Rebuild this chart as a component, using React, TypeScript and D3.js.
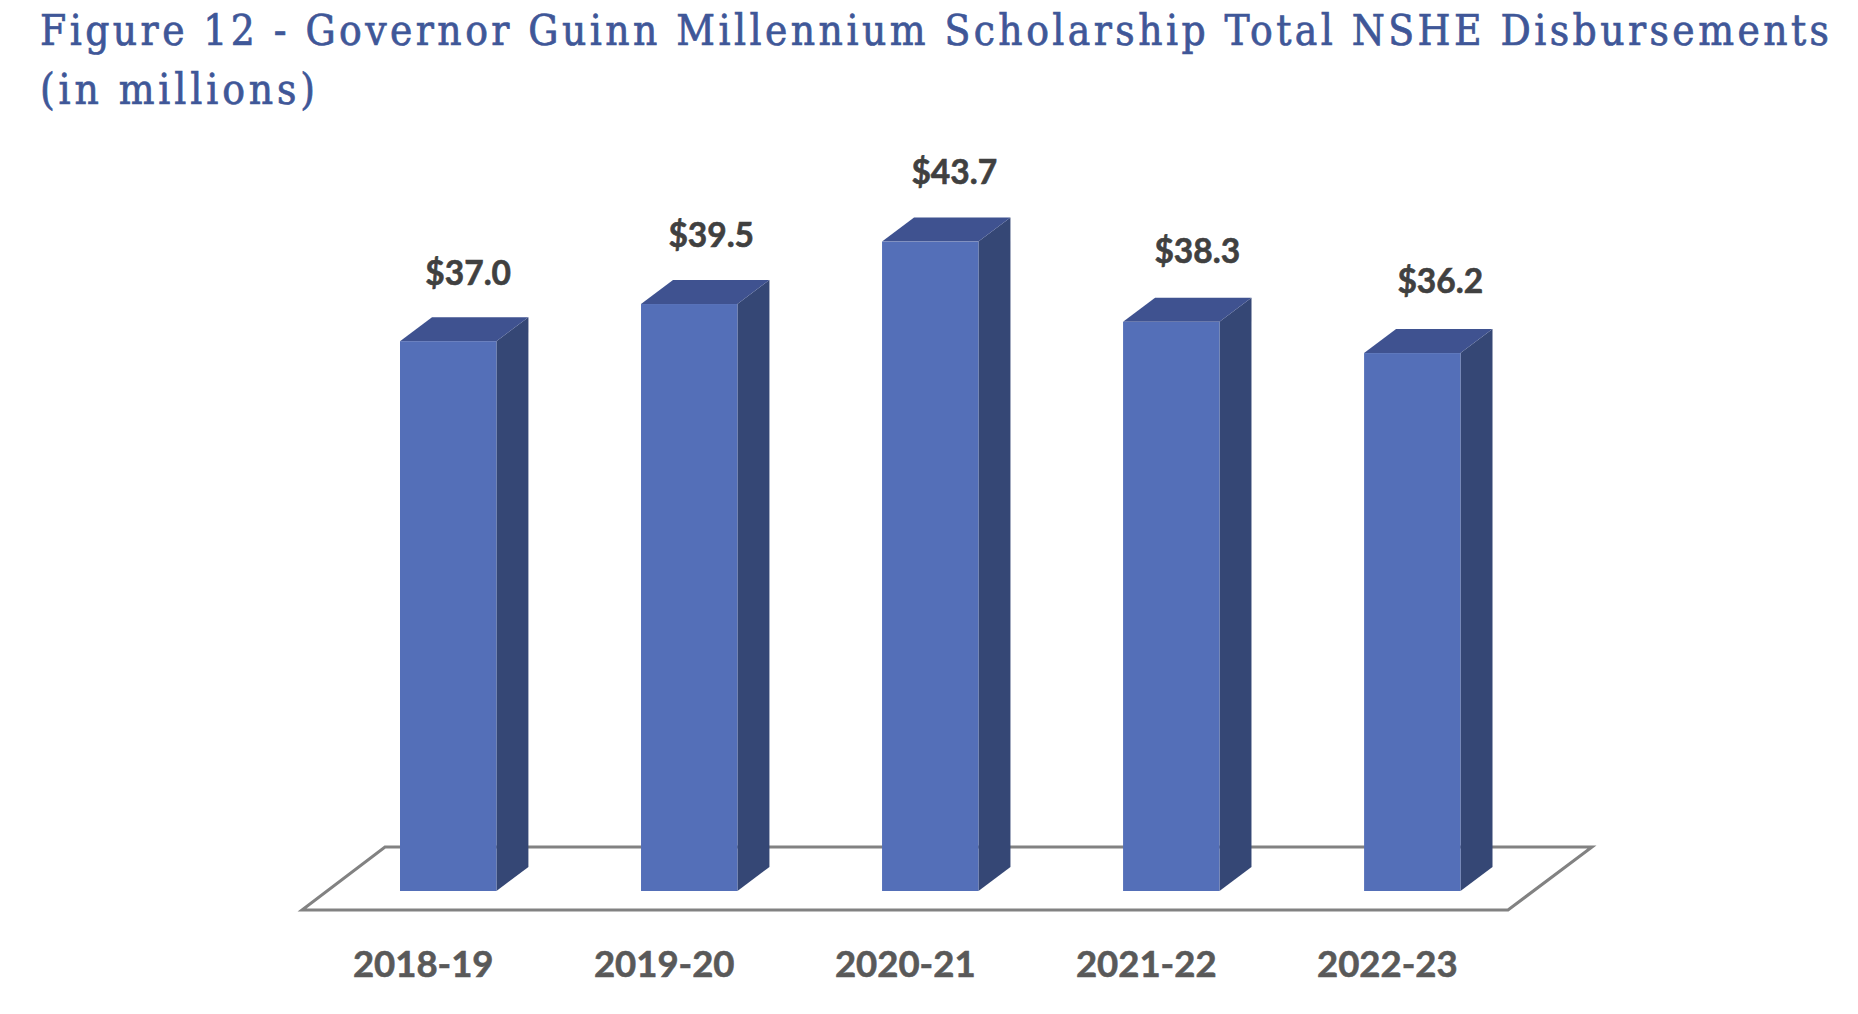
import React from "react";
import * as d3 from "d3";

const categories: string[] = ["2018-19", "2019-20", "2020-21", "2021-22", "2022-23"];
const values: number[] = [37.0, 39.5, 43.7, 38.3, 36.2];
const valueLabels: string[] = ["$37.0", "$39.5", "$43.7", "$38.3", "$36.2"];
const titleLines: string[] = [
  "Figure 12 - Governor Guinn Millennium Scholarship Total NSHE Disbursements",
  "(in millions)",
];

const W = 1858;
const H = 1014;

export default function App() {
  const baseY = 891;
  const x = d3
    .scaleBand<string>()
    .domain(categories)
    .range([400, 1460.5])
    .paddingInner(0.6)
    .paddingOuter(0);
  const y = d3.scaleLinear().domain([0, 50]).range([baseY, baseY - 50 * 14.86]);
  const bw = x.bandwidth();
  const ddx = 32;
  const ddy = -24;

  const floor = [
    [385, 847],
    [1592, 847],
    [1508, 910],
    [302, 910],
  ];

  const front = "#546FB8";
  const side = "#354775";
  const top = "#3F5290";
  const titleColor = "#3F5798";
  const titleFont = "'DejaVu Serif', 'Liberation Serif', serif";

  return (
    <svg
      width={W}
      height={H}
      style={{ position: "absolute", left: 0, top: 0, display: "block", background: "#fff" }}
    >
      <rect x={0} y={0} width={W} height={H} fill="#fff" />
      <text
        x={40}
        y={45}
        fontFamily={titleFont}
        fontStretch="condensed"
        fontSize={42}
        fill={titleColor}
        stroke={titleColor}
        strokeWidth={0.7}
        textLength={1789}
        lengthAdjust="spacing"
      >
        {titleLines[0]}
      </text>
      <text
        x={40}
        y={104}
        fontFamily={titleFont}
        fontStretch="condensed"
        fontSize={42}
        fill={titleColor}
        stroke={titleColor}
        strokeWidth={0.7}
        textLength={275}
        lengthAdjust="spacing"
      >
        {titleLines[1]}
      </text>

      <polygon
        points={floor.map((p) => p.join(",")).join(" ")}
        fill="#fff"
        stroke="#828282"
        strokeWidth={3}
        strokeLinejoin="miter"
      />

      {categories.map((c, i) => {
        const x0 = x(c)!;
        const x1 = x0 + bw;
        const yt = y(values[i]);
        const yb = y(0);
        return (
          <g key={c}>
            <polygon
              points={`${x1},${yt} ${x1 + ddx},${yt + ddy} ${x1 + ddx},${yb + ddy} ${x1},${yb}`}
              fill={side}
            />
            <polygon
              points={`${x0},${yt} ${x0 + ddx},${yt + ddy} ${x1 + ddx},${yt + ddy} ${x1},${yt}`}
              fill={top}
            />
            <rect x={x0} y={yt} width={bw} height={yb - yt} fill={front} />
            <text
              x={x0 + bw / 2 + 20 + 2 * i}
              y={yt + ddy - 32 - i}
              textAnchor="middle"
              fontFamily="Lato, 'Open Sans', sans-serif"
              fontWeight={700}
              fontSize={33.5}
              fill="#404040"
              stroke="#404040"
              strokeWidth={0.6}
            >
              {valueLabels[i]}
            </text>
            <text
              x={x0 + bw / 2 - 25}
              y={977}
              textAnchor="middle"
              fontFamily="Lato, 'Open Sans', sans-serif"
              fontWeight={700}
              fontSize={36.5}
              fill="#595959"
              stroke="#595959"
              strokeWidth={0.6}
            >
              {c}
            </text>
          </g>
        );
      })}
    </svg>
  );
}
